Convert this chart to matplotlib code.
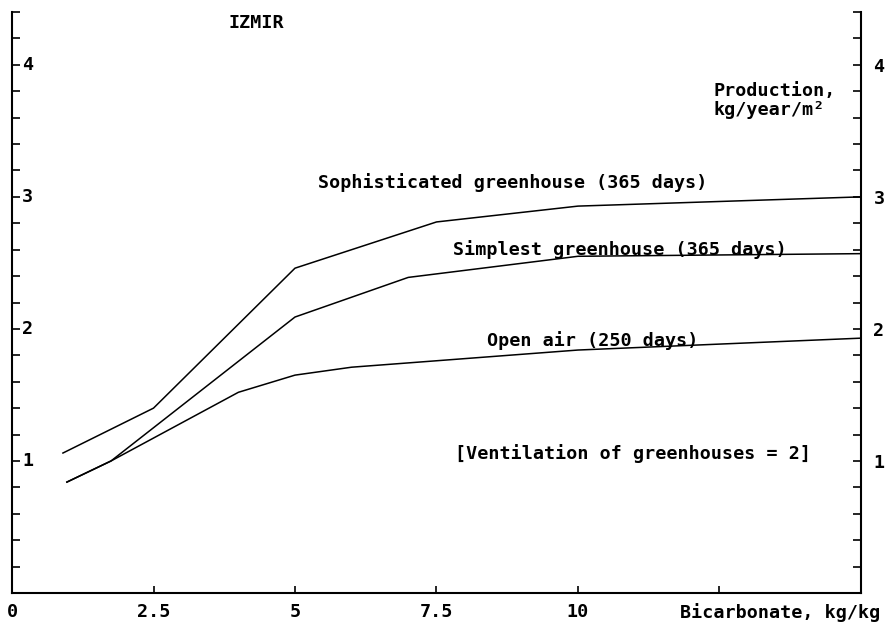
import numpy as np
import matplotlib
matplotlib.use("Agg")
import matplotlib.pyplot as plt
from matplotlib.ticker import MultipleLocator

# production curves for Izmir
x_soph = [0.9, 2.5, 5.0, 7.5, 10.0, 15.0]
y_soph = [1.06, 1.40, 2.46, 2.81, 2.93, 3.00]

x_simp = [0.97, 1.75, 5.0, 7.0, 10.0, 15.0]
y_simp = [0.84, 1.00, 2.09, 2.39, 2.55, 2.57]

x_open = [0.97, 1.75, 4.0, 5.0, 6.0, 10.0, 15.0]
y_open = [0.84, 1.00, 1.52, 1.65, 1.71, 1.84, 1.93]

xticks = [0, 2.5, 5, 7.5, 10, 12.5]
xtick_labels = ["0", "2.5", "5", "7.5", "10", ""]
yticks = [1, 2, 3, 4]

plt.rcParams['font.family'] = ['DejaVu Sans Mono']
FS = 13.2

fig = plt.figure(figsize=(8.87, 6.26), dpi=100)
ax = fig.add_axes([12/887, 33/626, 849/887, 581/626])

ax.plot(x_soph, y_soph, color="black", lw=1.1)
ax.plot(x_simp, y_simp, color="black", lw=1.1)
ax.plot(x_open, y_open, color="black", lw=1.1)

ax.set_xlim(0, 15)
ax.set_ylim(0, 4.4)

ax.spines['top'].set_visible(False)
for s in ['left', 'right', 'bottom']:
    ax.spines[s].set_linewidth(1.5)

ax.set_xticks(xticks)
ax.set_xticklabels(xtick_labels, fontsize=FS, fontweight="bold")
ax.tick_params(axis='x', direction='in', length=5, width=1.2, pad=7)

ax.set_yticks(yticks)
ax.yaxis.set_minor_locator(MultipleLocator(0.2))
ax.tick_params(axis='y', which='both', direction='in', length=6, width=1.2,
               left=True, right=True, labelleft=False, labelright=True, pad=9)
ax.set_yticklabels([str(v) for v in yticks], fontsize=FS, fontweight="bold")

# left side labels sit inside the frame
for v in yticks:
    ax.text(0.28, v, str(v), fontsize=FS, fontweight="bold", ha="center", va="center")

ax.text(4.31, 4.32, "IZMIR", fontsize=FS, fontweight="bold", ha="center", va="center")
ax.text(12.39, 3.80, "Production,", fontsize=FS, fontweight="bold", ha="left", va="center")
ax.text(12.39, 3.66, "kg/year/m²", fontsize=FS, fontweight="bold", ha="left", va="center")
ax.text(5.41, 3.11, "Sophisticated greenhouse (365 days)", fontsize=FS, fontweight="bold",
        ha="left", va="center")
ax.text(7.80, 2.60, "Simplest greenhouse (365 days)", fontsize=FS, fontweight="bold",
        ha="left", va="center")
ax.text(8.40, 1.91, "Open air (250 days)", fontsize=FS, fontweight="bold",
        ha="left", va="center")
ax.text(7.83, 1.06, "[Ventilation of greenhouses = 2]", fontsize=FS, fontweight="bold",
        ha="left", va="center")
ax.text(11.80, -0.15, "Bicarbonate, kg/kg", fontsize=FS, fontweight="bold",
        ha="left", va="center", clip_on=False)

plt.savefig("out.png", dpi=100)
